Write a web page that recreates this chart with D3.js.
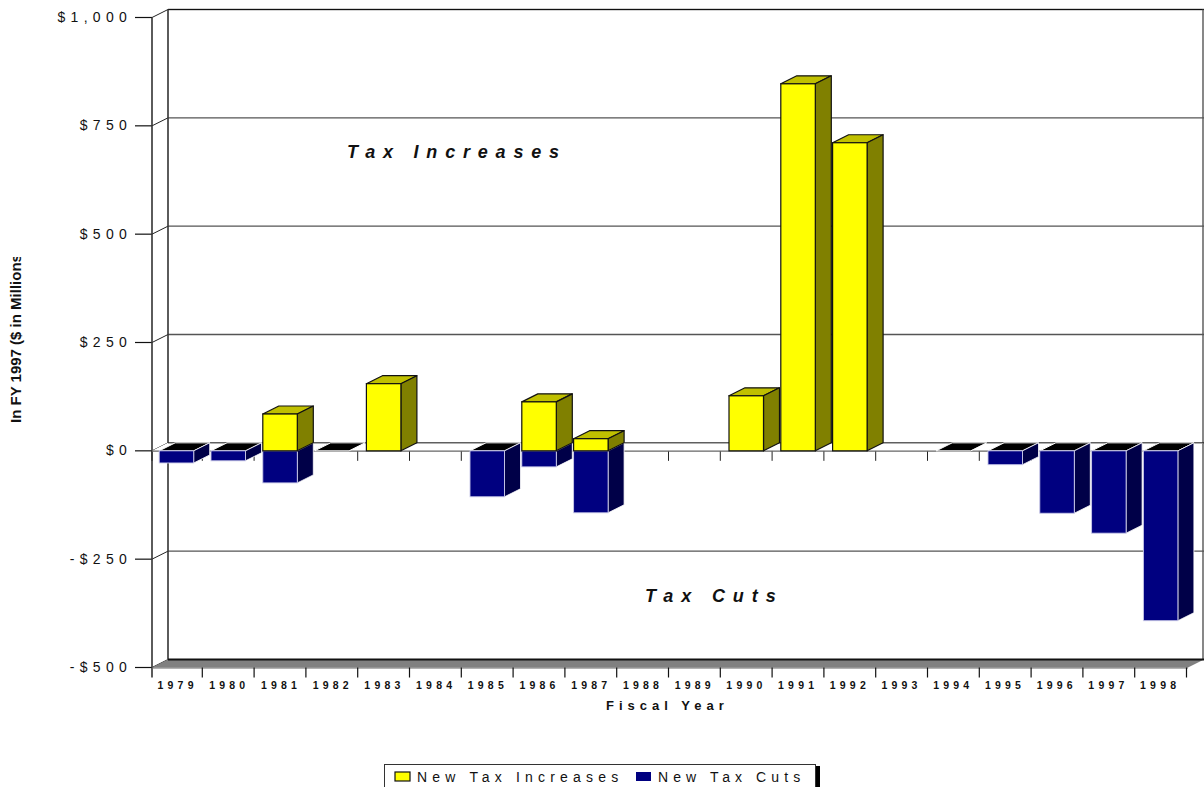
<!DOCTYPE html>
<html><head><meta charset="utf-8">
<script src="https://cdn.jsdelivr.net/npm/d3@7"></script>
<style>html,body{margin:0;padding:0;background:#fff;overflow:hidden}svg{display:block}text{font-family:"Liberation Sans",Arial,sans-serif;fill:#111}</style>
</head><body><svg id="c" width="1204" height="787"></svg>
<script>
const years=[1979,1980,1981,1982,1983,1984,1985,1986,1987,1988,1989,1990,1991,1992,1993,1994,1995,1996,1997,1998];
const increases=[null,null,85,null,155,null,null,113,28,null,null,127,847,711,null,null,null,null,null,null];
const cuts=[-28,-23,-74,0,null,null,-106,-37,-143,null,null,null,null,null,null,0,-32,-144,-190,-392];
const yTicks=[-500,-250,0,250,500,750,1000];
const yTickLabels=["- $ 5 0 0","- $ 2 5 0","$ 0","$ 2 5 0","$ 5 0 0","$ 7 5 0","$ 1 , 0 0 0"];
const seriesNames=["New Tax Increases","New Tax Cuts"];
const colors={inc:"#ffff00",incTop:"#c0c000",incSide:"#808000",cut:"#000080",cutSide:"#000048"};
const dx=16,dy=-8;
const svg=d3.select("#c");
const x=d3.scaleBand().domain(years).range([152,1188]);
const labelX=d3.scaleBand().domain(years).range([151.75,1186]);
const y=d3.scaleLinear().domain([-500,1000]).range([667.5,17.5]);
const barW=34.5,barOff=7.2,tickShift=-1.5;
const poly=(pts,fill,stroke,sw)=>svg.append("polygon").attr("points",pts.map(p=>p.join(",")).join(" ")).attr("fill",fill).attr("stroke",stroke||"none").attr("stroke-width",sw||0).attr("stroke-linejoin","round");
const line=(a,b,c,d,col,w)=>svg.append("line").attr("x1",a).attr("y1",b).attr("x2",c).attr("y2",d).attr("stroke",col).attr("stroke-width",w);
const X0=x.range()[0],X1=x.range()[1];
// gridlines and side wall
yTicks.forEach(t=>{
  const yy=y(t);
  if(t!==0&&t!==-500) line(X0+dx,yy+dy,X1+dx,yy+dy,"#555",1.4);
  if(t===1000) line(X0+dx,yy+dy,X1+dx,yy+dy,"#111",1);
  line(X0,yy,X0+dx,yy+dy,"#222",1);
  line(X0-17,yy,X0,yy,"#111",1.2);
});
line(X0,y(1000),X0,y(-500)+10,"#333",1.6);
line(X0+dx,y(1000)+dy,X0+dx,y(-500)+dy,"#333",1.6);
line(X1+dx-1,y(1000)+dy,X1+dx-1,y(-500)+dy,"#555",1.4);
// floor
poly([[X0,y(-500)],[X0+dx,y(-500)+dy],[X1+dx,y(-500)+dy],[X1,y(-500)]],"#808080");
line(X0+dx,y(-500)+dy,X1+dx,y(-500)+dy,"#111",1.8);
line(X0,y(-500)+.5,X1,y(-500)+.5,"#666",1);
// x ticks
d3.range(1,21).forEach(i=>{
  const tx=(i<20?x(years[i]):X1)+tickShift;
  line(tx,y(-500),tx,y(-500)+10,"#111",1.2);
  if(i<20){line(tx,y(0),tx,y(0)+10,"#222",1);}
});
line(X0,y(0)+10,X0,y(0),"#222",1);
// zero plane
const z=y(0);
poly([[X0,z],[X0+dx,z+dy],[X1+dx,z+dy],[X1,z]],"#fff");
line(X0+dx,z+dy,X1+dx,z+dy,"#111",1);
line(X0,z+.3,X1,z+.3,"#666",1.2);
// bars
years.forEach((yr,i)=>{
  const l=x(yr)+barOff,r=l+barW;
  const c=cuts[i],v=increases[i];
  if(c!==null){
    const b=y(c);
    poly([[l,z],[l+dx,z+dy],[r+dx,z+dy],[r,z]],"#000","#fff",1);
    if(c<0){
      poly([[r,z],[r+dx,z+dy],[r+dx,b+dy],[r,b]],colors.cutSide,"#fff",.8);
      svg.append("rect").attr("x",l).attr("y",z).attr("width",barW).attr("height",b-z).attr("fill",colors.cut).attr("stroke","#c8c8e8").attr("stroke-width",.9);
    }
  }
  if(v!==null){
    const t=y(v);
    poly([[l,t],[l+dx,t+dy],[r+dx,t+dy],[r,t]],colors.incTop,"#111",1.2);
    poly([[r,t],[r+dx,t+dy],[r+dx,z+dy],[r,z]],colors.incSide,"#111",1.2);
    svg.append("rect").attr("x",l).attr("y",t).attr("width",barW).attr("height",z-t).attr("fill",colors.inc).attr("stroke","#111").attr("stroke-width",1.2);
  }
});
// y labels
yTicks.forEach((t,i)=>svg.append("text").attr("x",127.5).attr("y",y(t)+4.5).attr("text-anchor","end").attr("font-size",14).attr("letter-spacing","0.7px").text(yTickLabels[i]));
// x labels
years.forEach(yr=>svg.append("text").attr("x",labelX(yr)+labelX.bandwidth()/2).attr("y",689).attr("text-anchor","middle").attr("font-size",10.5).attr("font-weight","bold").attr("letter-spacing","4.2px").text(yr));
svg.append("text").attr("x",606).attr("y",710).attr("font-size",13).attr("font-weight","bold").attr("letter-spacing","5px").text("Fiscal Year");
// y title clipped
svg.append("clipPath").attr("id","yc").append("rect").attr("x",0).attr("y",257).attr("width",40).attr("height",200);
svg.append("g").attr("clip-path","url(#yc)").append("text").attr("transform","translate(21,423) rotate(-90)").attr("font-size",15).attr("font-weight","bold").text("In FY 1997 ($ in Millions)");
// annotations
svg.append("text").attr("x",347).attr("y",158).attr("font-size",18).attr("font-weight","bold").attr("font-style","italic").attr("letter-spacing","7.8px").text("Tax Increases");
svg.append("text").attr("x",645).attr("y",602).attr("font-size",18).attr("font-weight","bold").attr("font-style","italic").attr("letter-spacing","7.9px").text("Tax Cuts");
// legend
svg.append("rect").attr("x",816).attr("y",766).attr("width",4).attr("height",22).attr("fill","#000");
svg.append("rect").attr("x",384.5).attr("y",764.5).attr("width",431).attr("height",30).attr("fill","#fff").attr("stroke","#333").attr("stroke-width",1);
svg.append("rect").attr("x",395).attr("y",772).attr("width",15).attr("height",9).attr("fill",colors.inc).attr("stroke","#111").attr("stroke-width",1.2);
svg.append("text").attr("x",417).attr("y",782).attr("font-size",14).attr("letter-spacing","5.2px").text(seriesNames[0]);
svg.append("rect").attr("x",636).attr("y",772).attr("width",15).attr("height",9).attr("fill",colors.cut);
svg.append("text").attr("x",658).attr("y",782).attr("font-size",14).attr("letter-spacing","5.1px").text(seriesNames[1]);
</script></body></html>
